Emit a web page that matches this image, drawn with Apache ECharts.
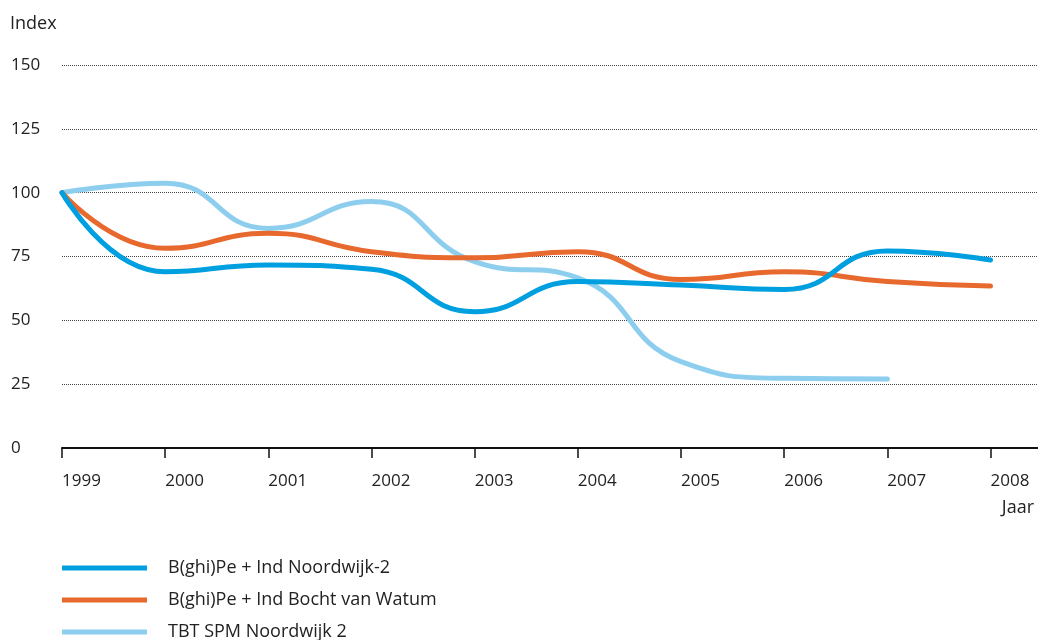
<!DOCTYPE html>
<html><head><meta charset="utf-8">
<script src="https://cdn.jsdelivr.net/npm/echarts@6/dist/echarts.min.js"></script>
<style>html,body{margin:0;padding:0;background:#fff}#c{width:1038px;height:640px}</style>
</head><body><div id="c"></div>
<script>
const years = [1999, 2000, 2001, 2002, 2003, 2004, 2005, 2006, 2007, 2008];
const noordwijk = [100, 69, 71.7, 70, 53.4, 65.2, 63.8, 62.1, 77.2, 73.6];
const watum = [100, 78.2, 84.1, 76.9, 74.5, 76.9, 66, 69, 65.2, 63.4];
const tbt = [100, 103.7, 86, 96.5, 73, 66.6, 33.8, 27.3, 27];
const seriesNames = ['B(ghi)Pe + Ind Noordwijk-2', 'B(ghi)Pe + Ind Bocht van Watum', 'TBT SPM Noordwijk 2'];
const colors = ['#009FDF', '#E8692D', '#8DCEEF'];
const yTicks = [0, 25, 50, 75, 100, 125, 150];

const FONT = 'Open Sans';
const pair = (vals) => vals.map((v, i) => [years[i], v]);
const legendTops = [558, 590, 622];
const chart = echarts.init(document.getElementById('c'), null, {renderer: 'canvas'});
chart.setOption({
  animation: false,
  color: colors,
  textStyle: {fontFamily: FONT},
  grid: {left: 62, right: 0, top: 65, bottom: 192, containLabel: false},
  xAxis: {
    type: 'value', min: 1999, max: 2008.46, interval: 1,
    axisLine: {lineStyle: {color: '#111', width: 2}},
    axisTick: {show: true, length: 10, customValues: years, lineStyle: {color: '#111', width: 1.5}},
    axisLabel: {align: 'left', margin: 25, fontSize: 17, color: '#222', fontFamily: FONT, customValues: years,
      formatter: v => (Number.isInteger(v) && years.indexOf(v) >= 0) ? String(v) : ''},
    splitLine: {show: false}
  },
  yAxis: {
    type: 'value', min: 0, max: 150, interval: 25,
    axisLine: {show: false}, axisTick: {show: false},
    axisLabel: {align: 'left', margin: 51, fontSize: 17, color: '#222', fontFamily: FONT,
      formatter: v => yTicks.indexOf(v) >= 0 ? String(v) : ''},
    splitLine: {lineStyle: {type: 'dotted', color: '#444', width: 1}}
  },
  legend: seriesNames.map((n, i) => ({
    orient: 'vertical', left: 62, top: legendTops[i], padding: 0,
    itemWidth: 85, itemHeight: 5, icon: 'rect',
    textStyle: {fontSize: 18, color: '#222', fontFamily: FONT, padding: [0, 0, 0, 16], lineHeight: 20},
    data: [n]
  })),
  graphic: [
    {type: 'text', left: 10, top: 15, style: {text: 'Index', fontSize: 18, fill: '#222', fontFamily: FONT}},
    {type: 'text', right: 4, top: 499, style: {text: 'Jaar', fontSize: 18, fill: '#222', fontFamily: FONT}}
  ],
  series: [
    {name: seriesNames[0], type: 'line', data: pair(noordwijk), smooth: 0.5, symbol: 'none', lineStyle: {width: 5, cap: 'round'}, z: 3},
    {name: seriesNames[1], type: 'line', data: pair(watum), smooth: 0.5, symbol: 'none', lineStyle: {width: 5, cap: 'round'}, z: 2},
    {name: seriesNames[2], type: 'line', data: pair(tbt), smooth: 0.5, symbol: 'none', lineStyle: {width: 5, cap: 'round'}, z: 1}
  ]
});
</script></body></html>
